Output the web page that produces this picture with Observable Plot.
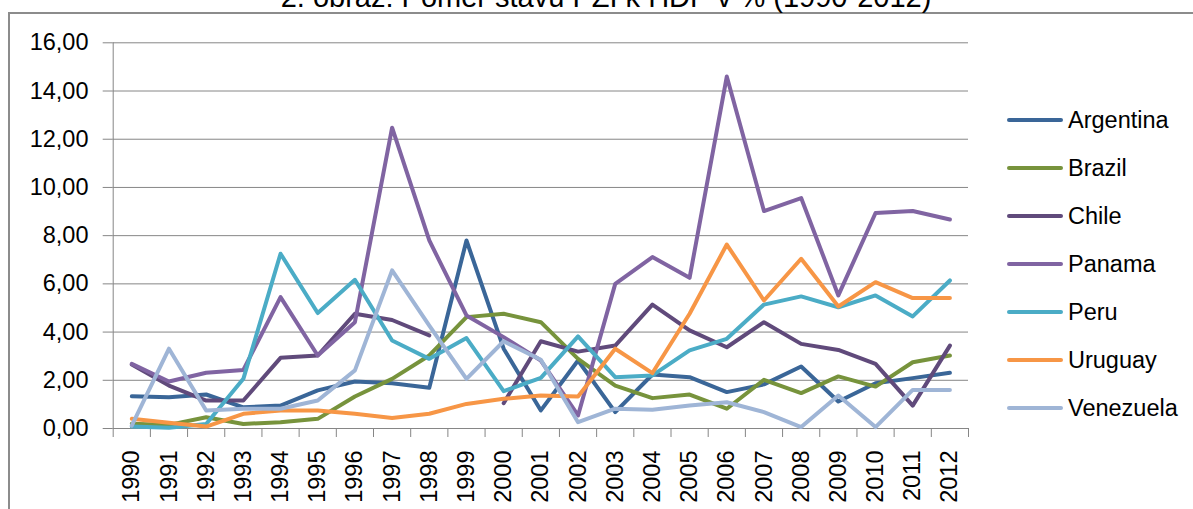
<!DOCTYPE html>
<html>
<head>
<meta charset="utf-8">
<script src="https://cdn.jsdelivr.net/npm/d3@7"></script>
<script src="https://cdn.jsdelivr.net/npm/@observablehq/plot@0.6"></script>
<style>
html, body { margin: 0; padding: 0; background: #fff; }
#wrap { position: relative; width: 1193px; height: 509px; overflow: hidden; font-family: "Liberation Sans", Arial, sans-serif; }
#frame { position: absolute; left: 8px; top: 12px; right: -5px; bottom: -5px; border-left: 2px solid #8c8c8c; border-top: 2px solid #8c8c8c; }
#title { position: absolute; left: 0; width: 1212px; top: -17.5px; text-align: center; font-size: 29px; line-height: 29px; color: #000; white-space: nowrap; }
#chart { position: absolute; left: 0; top: 0; }
#legend { position: absolute; left: 1007px; top: 0; }
.item { position: absolute; left: 0; height: 30px; display: flex; align-items: center; white-space: nowrap; font-size: 23.5px; color: #000; }
.swatch { width: 56px; height: 4.5px; border-radius: 2.5px; margin-right: 5px; }
</style>
</head>
<body>
<div id="wrap">
  <div id="frame"></div>
  <div id="title"></div>
  <div id="chart"></div>
  <div id="legend"></div>
</div>
<script>
const titleText = "2. obraz: Pomer stavu PZI k HDP v % (1990-2012)";
const years = [1990,1991,1992,1993,1994,1995,1996,1997,1998,1999,2000,2001,2002,2003,2004,2005,2006,2007,2008,2009,2010,2011,2012];
const countries = ["Argentina","Brazil","Chile","Panama","Peru","Uruguay","Venezuela"];
const argentina = [1.34,1.30,1.41,0.88,0.95,1.58,1.95,1.88,1.69,7.80,3.31,0.75,2.82,0.68,2.24,2.13,1.51,1.83,2.57,1.12,1.88,2.09,2.31];
const brazil    = [0.20,0.15,0.47,0.19,0.26,0.40,1.33,2.06,3.03,4.62,4.76,4.41,2.89,1.78,1.26,1.41,0.82,2.02,1.47,2.16,1.74,2.75,3.03];
const chile     = [2.65,1.78,1.16,1.16,2.93,3.03,4.76,4.50,3.86,null,1.05,3.62,3.19,3.44,5.14,4.07,3.37,4.41,3.51,3.26,2.68,0.95,3.44];
const panama    = [2.68,1.95,2.31,2.43,5.45,3.03,4.41,12.48,7.80,4.69,3.79,2.82,0.54,6.00,7.11,6.25,14.60,9.02,9.56,5.52,8.94,9.02,8.67];
const peru      = [0.08,0.03,0.19,2.06,7.25,4.79,6.17,3.65,2.89,3.75,1.55,2.10,3.82,2.13,2.20,3.24,3.72,5.14,5.48,5.03,5.52,4.65,6.14];
const uruguay   = [0.40,0.24,0.08,0.61,0.75,0.75,0.61,0.44,0.61,1.02,1.23,1.37,1.33,3.31,2.30,4.76,7.63,5.31,7.04,5.06,6.07,5.41,5.41];
const venezuela = [0.12,3.31,0.75,0.82,0.82,1.16,2.41,6.56,4.27,2.06,3.62,2.85,0.26,0.82,0.78,0.95,1.09,0.68,0.06,1.37,0.06,1.60,1.60];
const yTicks = [0,2,4,6,8,10,12,14,16];
const colors = ["#3a6698","#77933c","#604a7b","#8064a2","#4bacc6","#f79646","#9fb5d6"];

const seriesValues = [argentina, brazil, chile, panama, peru, uruguay, venezuela];
const rows = countries.flatMap((c, i) => years.map((yr, j) => ({country: c, year: yr, value: seriesValues[i][j]})));
const bounds = years.map(y => y - 0.5).concat([years[years.length - 1] + 0.5]);
const fmt = d => d.toFixed(2).replace(".", ",");
const grey = "#868686";

document.getElementById("title").textContent = titleText;

const plot = Plot.plot({
  width: 1193,
  height: 509,
  marginLeft: 112.7,
  marginRight: 225,
  marginTop: 42.3,
  marginBottom: 81,
  x: {type: "linear", domain: [bounds[0], bounds[bounds.length - 1]]},
  y: {domain: [0, 16]},
  color: {domain: countries, range: colors},
  style: {fontFamily: "'Liberation Sans', Arial, sans-serif", fontSize: "23.5px", color: "#000", background: "transparent", overflow: "visible"},
  marks: [
    Plot.ruleY(yTicks, {stroke: grey, strokeWidth: 1}),
    Plot.ruleX([bounds[0]], {stroke: grey, strokeWidth: 1}),
    Plot.axisY(yTicks, {tickSize: 10, tickPadding: 14.7, tickFormat: fmt, stroke: grey, fill: "#000", label: null}),
    Plot.axisX(bounds, {tickSize: 9, tickFormat: () => "", stroke: grey, label: null}),
    Plot.axisX(years, {tickSize: 0, tickPadding: 22, tickRotate: -90, tickFormat: d => String(d), fill: "#000", label: null}),
    Plot.line(rows, {x: "year", y: "value", z: "country", stroke: "country", strokeWidth: 4, strokeLinejoin: "round", strokeLinecap: "round"})
  ]
});
document.getElementById("chart").appendChild(plot);

const legend = document.getElementById("legend");
countries.forEach((c, i) => {
  const item = document.createElement("div");
  item.className = "item";
  item.style.top = (120 + i * 48 - 15) + "px";
  const sw = document.createElement("span");
  sw.className = "swatch";
  sw.style.background = colors[i];
  const tx = document.createElement("span");
  tx.textContent = c;
  item.appendChild(sw);
  item.appendChild(tx);
  legend.appendChild(item);
});
</script>
</body>
</html>
